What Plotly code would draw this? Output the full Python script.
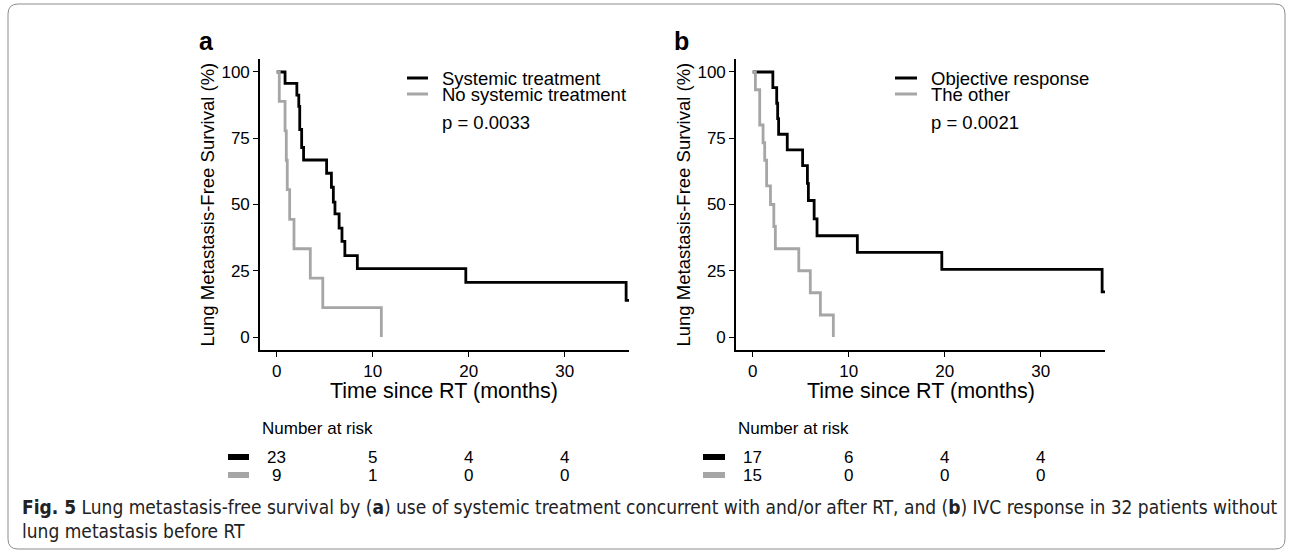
import plotly.graph_objects as go

W, H = 1292, 553

# ---------------- data ----------------
# Panel a
a_sys_t = [0, 0.87, 2.1, 2.3, 2.4, 2.6, 2.8, 5.2, 5.7, 5.9, 6.07, 6.5, 6.8, 7.1, 8.4, 19.7, 36.4, 36.7]
a_sys_s = [100, 95.7, 91.3, 87.0, 78.3, 71.5, 66.8, 61.8, 56.5, 50.9, 46.5, 41.1, 36.1, 30.7, 25.8, 20.6, 13.8, 13.8]
a_no_t = [0, 0.27, 0.87, 1.0, 1.1, 1.35, 1.8, 3.5, 4.8, 10.9]
a_no_s = [100, 88.9, 77.8, 66.7, 55.6, 44.4, 33.3, 22.2, 11.1, 0]
# Panel b
b_obj_t = [0, 2.1, 2.5, 2.6, 2.7, 3.6, 5.2, 5.7, 5.8, 6.4, 6.7, 10.9, 19.7, 36.4, 36.7]
b_obj_s = [100, 94.1, 88.2, 82.4, 76.5, 70.6, 64.7, 58.0, 51.5, 44.6, 38.2, 31.9, 25.5, 17.0, 17.0]
b_oth_t = [0, 0.28, 0.73, 1.08, 1.25, 1.45, 1.85, 2.2, 2.36, 4.8, 6.0, 7.05, 8.4]
b_oth_s = [100, 93.3, 80.0, 73.3, 66.7, 57.0, 50.0, 41.7, 33.3, 25.0, 16.7, 8.3, 0]

legend_a = ["Systemic treatment", "No systemic treatment"]
legend_b = ["Objective response", "The other"]
pval_a = "p = 0.0033"
pval_b = "p = 0.0021"
risk_times = [0, 10, 20, 30]
risk_a = [[23, 5, 4, 4], [9, 1, 0, 0]]
risk_b = [[17, 6, 4, 4], [15, 0, 0, 0]]
x_ticks = [0, 10, 20, 30]
y_ticks = [0, 25, 50, 75, 100]

BLACK = "#000000"
GRAY = "#a6a6a6"
FONT = "Liberation Sans"
CAPFONT = "DejaVu Sans Condensed"


def px(x):
    return x / W


def py(y):
    return 1 - y / H


fig = go.Figure()

panels = [
    dict(xa="x", ya="y", l=260, r=629, series=[(a_sys_t, a_sys_s, BLACK, legend_a[0]), (a_no_t, a_no_s, GRAY, legend_a[1])],
         leg=legend_a, pval=pval_a, risk=risk_a, letter="a", letter_x=206, sw=(407, 428), tx=440, risk_sw=(228, 249)),
    dict(xa="x2", ya="y2", l=736, r=1105, series=[(b_obj_t, b_obj_s, BLACK, legend_b[0]), (b_oth_t, b_oth_s, GRAY, legend_b[1])],
         leg=legend_b, pval=pval_b, risk=risk_b, letter="b", letter_x=681, sw=(895, 917), tx=929, risk_sw=(703, 725)),
]

TOP, BOT = 59, 350
ann = []
shapes = []

for i, p in enumerate(panels):
    for t, s, c, name in p["series"]:
        fig.add_trace(go.Scatter(x=t, y=s, mode="lines", line=dict(color=c, width=2.8, shape="hv"),
                                 name=name, showlegend=False, xaxis=p["xa"], yaxis=p["ya"]))
    axsuf = "" if i == 0 else "2"
    common = dict(showgrid=False, zeroline=False, showline=True, linecolor=BLACK, linewidth=1.6,
                  ticks="outside", ticklen=5, tickwidth=1.4, tickcolor=BLACK,
                  tickfont=dict(family=FONT, size=17, color=BLACK), fixedrange=True)
    fig.update_layout(**{
        "xaxis" + axsuf: dict(domain=[px(p["l"]), px(p["r"])], range=[-1.74, 36.7], tickvals=x_ticks,
                              anchor="y" + axsuf, **common),
        "yaxis" + axsuf: dict(domain=[py(BOT), py(TOP)], range=[-4.9, 104.9], tickvals=y_ticks,
                              anchor="x" + axsuf, **common),
    })
    xref = "x" + axsuf
    cx = (p["l"] + p["r"]) / 2
    ann.append(dict(x=px(cx), y=py(391), xref="paper", yref="paper", text="Time since RT (months)",
                    showarrow=False, font=dict(family=FONT, size=21.5, color=BLACK), xanchor="center", yanchor="middle"))
    ann.append(dict(x=px(p["l"] - 53), y=py((TOP + BOT) / 2), xref="paper", yref="paper",
                    text="Lung Metastasis-Free Survival (%)", textangle=-90, showarrow=False,
                    font=dict(family=FONT, size=18.5, color=BLACK), xanchor="center", yanchor="middle"))
    ann.append(dict(x=px(p["letter_x"]), y=py(41), xref="paper", yref="paper", text="<b>%s</b>" % p["letter"],
                    showarrow=False, font=dict(family=FONT, size=25, color=BLACK), xanchor="center", yanchor="middle"))
    for j, (lab, col, yy) in enumerate(zip(p["leg"], [BLACK, GRAY], [78, 94])):
        shapes.append(dict(type="line", xref="paper", yref="paper", x0=px(p["sw"][0]), x1=px(p["sw"][1]),
                           y0=py(yy), y1=py(yy), line=dict(color=col, width=3)))
        ann.append(dict(x=px(p["tx"]), y=py(yy), xref="paper", yref="paper", text=lab, showarrow=False,
                        font=dict(family=FONT, size=18.5, color=BLACK), xanchor="left", yanchor="middle"))
    ann.append(dict(x=px(p["tx"]), y=py(123), xref="paper", yref="paper", text=p["pval"], showarrow=False,
                    font=dict(family=FONT, size=18.5, color=BLACK), xanchor="left", yanchor="middle"))
    ann.append(dict(x=px(p["l"]), y=py(428), xref="paper", yref="paper", text="Number at risk", showarrow=False,
                    font=dict(family=FONT, size=17, color=BLACK), xanchor="left", yanchor="middle"))
    for row, col, yy in zip(p["risk"], [BLACK, GRAY], [457, 475]):
        shapes.append(dict(type="line", xref="paper", yref="paper", x0=px(p["risk_sw"][0]), x1=px(p["risk_sw"][1]),
                           y0=py(yy), y1=py(yy), line=dict(color=col, width=6)))
        for t, n in zip(risk_times, row):
            ann.append(dict(x=t, y=py(yy), xref=xref, yref="paper", text=str(n), showarrow=False,
                            font=dict(family=FONT, size=17, color=BLACK), xanchor="center", yanchor="middle"))

# caption
cap1 = ("<b>Fig. 5</b> Lung metastasis-free survival by (<b>a</b>) use of systemic treatment concurrent with and/or after RT, "
        "and (<b>b</b>) IVC response in 32 patients without")
cap2 = "lung metastasis before RT"
ann.append(dict(x=px(20), y=py(507), xref="paper", yref="paper", text=cap1, showarrow=False,
                font=dict(family=CAPFONT, size=19, color="#222222"), xanchor="left", yanchor="middle"))
ann.append(dict(x=px(20), y=py(531), xref="paper", yref="paper", text=cap2, showarrow=False,
                font=dict(family=CAPFONT, size=19, color="#222222"), xanchor="left", yanchor="middle"))

# rounded outer frame
x0, x1, y0, y1, r = 8, 1285, 4, 549, 10
path = (f"M {px(x0 + r)},{py(y0)} L {px(x1 - r)},{py(y0)} Q {px(x1)},{py(y0)} {px(x1)},{py(y0 + r)} "
        f"L {px(x1)},{py(y1 - r)} Q {px(x1)},{py(y1)} {px(x1 - r)},{py(y1)} "
        f"L {px(x0 + r)},{py(y1)} Q {px(x0)},{py(y1)} {px(x0)},{py(y1 - r)} "
        f"L {px(x0)},{py(y0 + r)} Q {px(x0)},{py(y0)} {px(x0 + r)},{py(y0)} Z")
shapes.append(dict(type="path", xref="paper", yref="paper", path=path, line=dict(color="#8c8c8c", width=1)))

fig.update_layout(width=W, height=H, autosize=False, margin=dict(l=0, r=0, t=0, b=0),
                  paper_bgcolor="white", plot_bgcolor="white", showlegend=False,
                  annotations=ann, shapes=shapes)

fig.write_html("out.html", config={"displayModeBar": False})
